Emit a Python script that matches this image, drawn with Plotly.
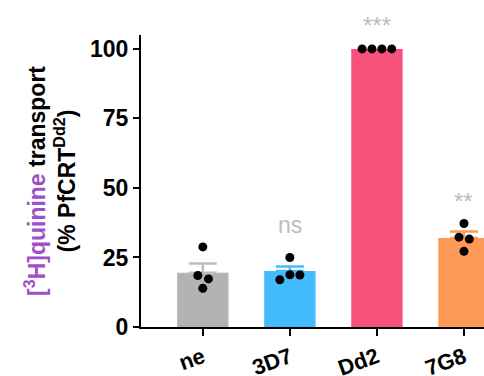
import plotly.graph_objects as go

categories = ["ne", "3D7", "Dd2", "7G8"]
bar_means = [19.5, 20.1, 100.0, 32.0]
bar_sem = [3.3, 1.7, 0.0, 2.3]
points = [
    [28.8, 18.5, 17.3, 13.9],
    [25.0, 17.0, 18.8, 18.7],
    [100.0, 100.0, 100.0, 100.0],
    [37.2, 32.3, 31.6, 27.2],
]
jitter = [
    [0.0, -0.057, 0.065, 0.0],
    [0.0, -0.115, 0.0, 0.115],
    [-0.17, -0.057, 0.057, 0.17],
    [0.0, -0.057, 0.061, 0.0],
]
sig_labels = ["", "ns", "***", "**"]
sig_y = [None, 36.7, 108.3, 45.0]

bar_colors = ["#b3b3b3", "#43bbfd", "#f7527c", "#fd9a57"]
err_colors = ["#bdbdbd", "#43bbfd", "#f7527c", "#fd9a57"]

fig = go.Figure()
for i, c in enumerate(categories):
    fig.add_trace(go.Bar(
        x=[i], y=[bar_means[i]], width=0.59,
        marker=dict(color=bar_colors[i], line=dict(width=0)),
        error_y=dict(type="data", symmetric=False, array=[bar_sem[i]], arrayminus=[0],
                     color=err_colors[i], thickness=2.5, width=14, visible=bar_sem[i] > 0),
        showlegend=False,
    ))
for i, c in enumerate(categories):
    fig.add_trace(go.Scatter(
        x=[i + j for j in jitter[i]], y=points[i], mode="markers",
        marker=dict(color="black", size=9), showlegend=False, cliponaxis=False,
    ))

YMAX = 105.0
for i, lab in enumerate(sig_labels):
    if lab:
        fig.add_annotation(x=i, y=sig_y[i] / YMAX, xref="x", yref="paper", text=lab,
                           showarrow=False, xanchor="center", yanchor="middle",
                           font=dict(family="Liberation Sans", size=23 if lab == "ns" else 24,
                                     color="#bdbdbd"))

fig.update_layout(
    width=484, height=376,
    margin=dict(l=141, r=0, t=35, b=49),
    plot_bgcolor="white", paper_bgcolor="white",
    barmode="overlay",
    font=dict(family="Liberation Sans", color="black"),
    xaxis=dict(
        range=[-0.71, 3.23], tickmode="array", tickvals=list(range(4)), ticktext=categories,
        tickangle=-20, showline=True, linecolor="black", linewidth=2,
        ticks="outside", ticklen=7, tickwidth=2, tickcolor="black",
        tickfont=dict(family="Liberation Sans", size=22, color="black", weight="bold"),
        showgrid=False, zeroline=False, automargin=False,
    ),
    yaxis=dict(
        range=[0, YMAX], tickvals=[0, 25, 50, 75, 100],
        showline=True, linecolor="black", linewidth=2,
        ticks="outside", ticklen=6, tickwidth=2, tickcolor="black",
        tickfont=dict(family="Liberation Sans", size=23, color="black", weight="bold"),
        showgrid=False, zeroline=False, automargin=False,
        title=dict(
            text="<b><span style='color:#a04fc8'>[<sup>3</sup>H]quinine</span> transport<br>(% PfCRT<sup>Dd2</sup>)</b>",
            font=dict(family="Liberation Sans", size=23, color="black"),
            standoff=8,
        ),
    ),
)

fig.write_html("out.html", config={"displayModeBar": False},
               post_script="document.body.style.margin='0';document.body.style.overflow='hidden';")
